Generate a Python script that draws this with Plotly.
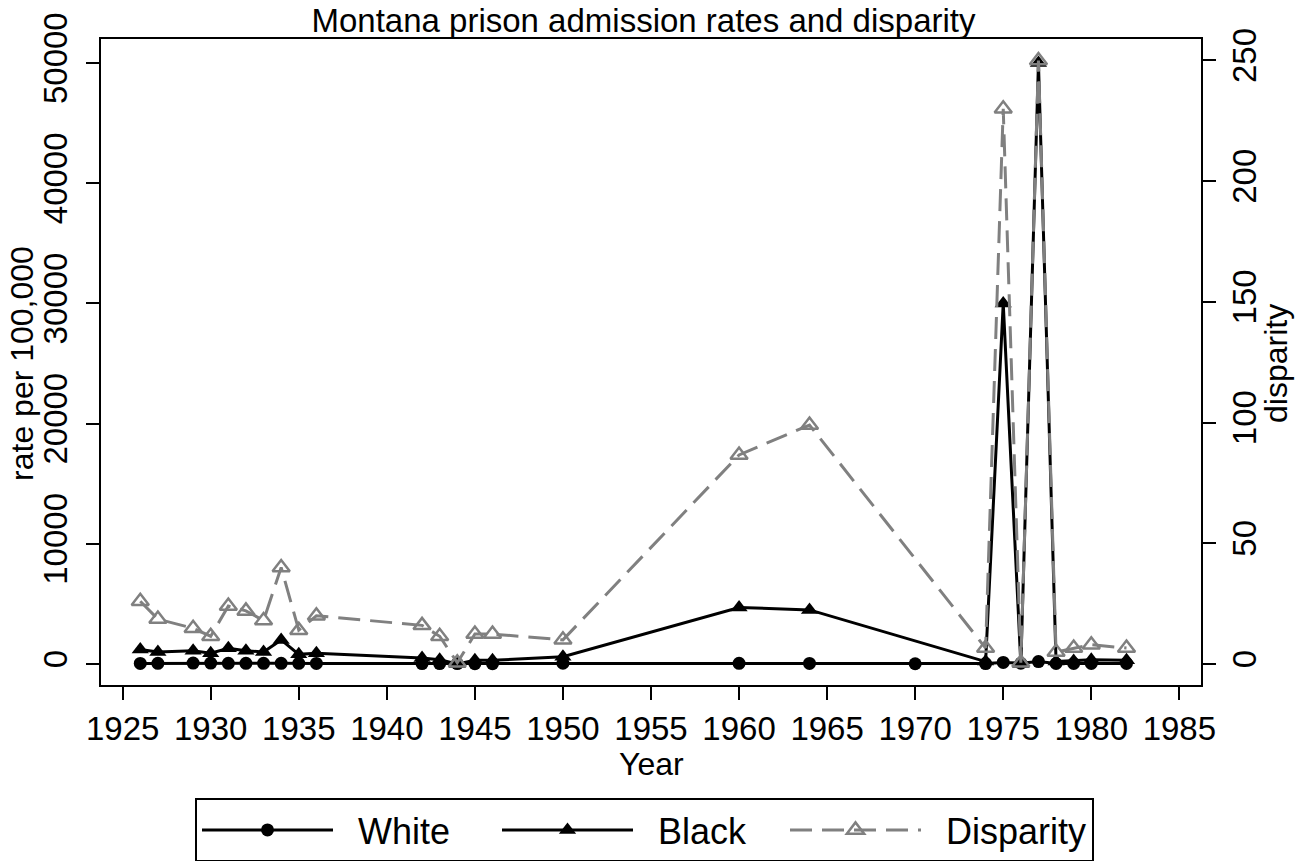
import plotly.graph_objects as go

# ---- data ----
years = [1926, 1927, 1929, 1930, 1931, 1932, 1933, 1934, 1935, 1936,
         1942, 1943, 1944, 1945, 1946, 1950, 1960, 1964, 1970,
         1974, 1975, 1976, 1977, 1978, 1979, 1980, 1982]
white_rate = [46, 54, 74, 78, 54, 50, 56, 50, 57, 45,
              31, 30, 30, 24, 24, 60, 54, 45, 20,
              30, 130, 60, 200, 40, 38, 44, 45]
black_rate = [1200, 1000, 1100, 900, 1300, 1100, 1000, 2000, 800, 900,
              500, 350, 0, 300, 300, 600, 4700, 4500, None,
              200, 30000, 0, 50000, 200, 250, 350, 300]
disparity = [26, 18.6, 14.8, 11.5, 24, 22, 18, 40, 14, 20,
             16, 11.5, 0.5, 12.4, 12.4, 10, 86.6, 99, None,
             6.6, 230, 0.5, 250, 5, 6.6, 8, 6.6]

x_ticks = list(range(1925, 1990, 5))
left_ticks = [0, 10000, 20000, 30000, 40000, 50000]
right_ticks = [0, 50, 100, 150, 200, 250]

FONT = "Liberation Sans, Arial, sans-serif"
GREY = "#808080"
NB = "\u00a0"

W, H = 1307, 861
ML, MR, MT, MB = 101, 106, 34, 176
PW = W - ML - MR
PH = H - MT - MB

fig = go.Figure()
fig.add_trace(go.Scatter(
    x=years, y=white_rate, name=NB * 2 + "White", mode="lines+markers",
    line=dict(color="black", width=3),
    marker=dict(symbol="circle", size=13, color="black"),
    legendwidth=154,
))
fig.add_trace(go.Scatter(
    x=years, y=black_rate, name=NB * 2 + "Black", mode="lines+markers",
    connectgaps=True,
    line=dict(color="black", width=3),
    marker=dict(symbol="triangle-up", size=15, color="black"),
    legendwidth=142,
))
fig.add_trace(go.Scatter(
    x=years, y=disparity, name=NB * 2 + "Disparity", mode="lines+markers",
    connectgaps=True, yaxis="y2",
    line=dict(color=GREY, width=3, dash="22px,10px"),
    marker=dict(symbol="triangle-up-open", size=15, color=GREY,
                line=dict(color=GREY, width=2.5)),
))

axis_common = dict(
    showline=True, linecolor="black", linewidth=2,
    ticks="outside", ticklen=13, tickwidth=2, tickcolor="black",
    showgrid=False, zeroline=False,
    tickfont=dict(family=FONT, size=33, color="black"),
)

fig.update_layout(
    width=W, height=H,
    paper_bgcolor="white", plot_bgcolor="white",
    margin=dict(l=ML, r=MR, t=MT, b=MB),
    font=dict(family=FONT, size=32, color="black"),
    title=dict(text="Montana prison admission rates and disparity",
               x=643.5 / W, xanchor="center", y=0.976, yanchor="middle",
               font=dict(family=FONT, size=33, color="black")),
    xaxis=dict(range=[1923.77, 1986.23], tickvals=x_ticks,
               mirror=True, **axis_common),
    yaxis=dict(range=[-1750, 52005], tickvals=left_ticks,
               ticktext=[str(v) for v in left_ticks], tickangle=-90,
               ticklabelstandoff=6,
               **axis_common),
    yaxis2=dict(range=[-8.7, 258.9], tickvals=right_ticks,
                ticktext=[str(v) for v in right_ticks], tickangle=-90,
                ticklabelstandoff=0,
                overlaying="y", side="right",
                **axis_common),
    annotations=[
        dict(text="Year", showarrow=False,
             xref="paper", yref="paper", x=0.5, y=-(765 - (MT + PH)) / PH,
             xanchor="center", yanchor="middle",
             font=dict(family=FONT, size=32, color="black")),
        dict(text="rate per 100,000", textangle=-90, showarrow=False,
             xref="paper", yref="paper", x=(22 - ML) / PW, y=0.497,
             xanchor="center", yanchor="middle",
             font=dict(family=FONT, size=32, color="black")),
        dict(text="disparity", textangle=-90, showarrow=False,
             xref="paper", yref="paper", x=(1276 - ML) / PW, y=0.497,
             xanchor="center", yanchor="middle",
             font=dict(family=FONT, size=32, color="black")),
    ],
    legend=dict(orientation="h", xref="container", yref="container",
                x=195 / W, xanchor="left", y=1 - 798 / H, yanchor="top",
                bordercolor="black", borderwidth=2, bgcolor="white",
                itemwidth=131, font=dict(family=FONT, size=36),
                traceorder="normal"),
    showlegend=True,
)

fig.write_html("out.html", config={"displayModeBar": False},
               post_script="document.body.style.margin='0';")
